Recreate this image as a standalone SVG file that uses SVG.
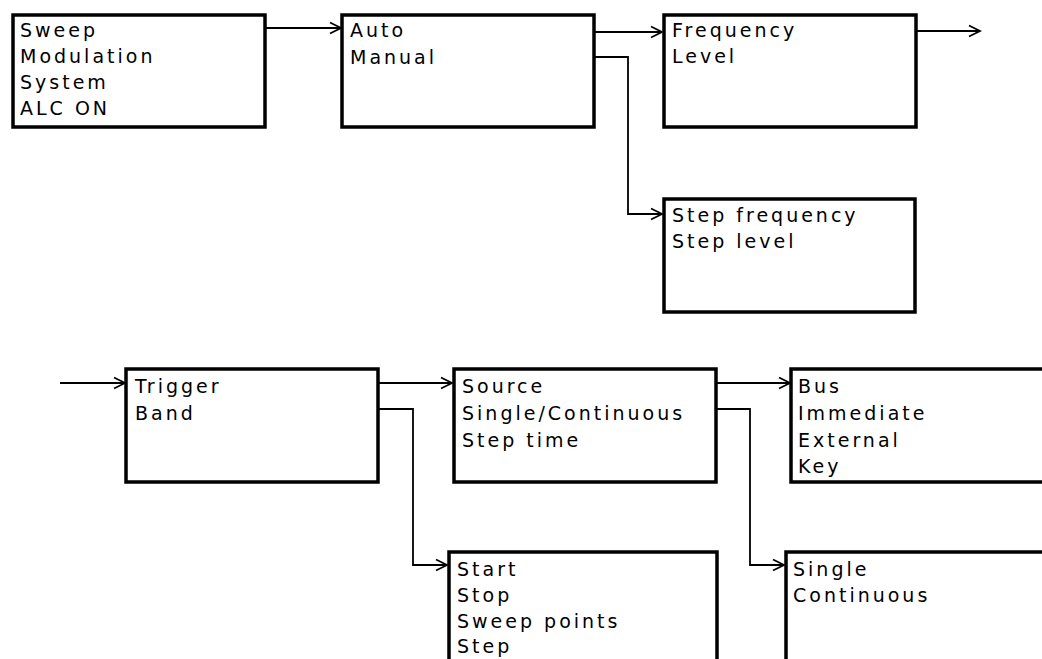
<svg xmlns="http://www.w3.org/2000/svg" width="1042" height="659" viewBox="0 0 1042 659">
<style>
.box{fill:#fff;stroke:#000;stroke-width:3.5}
.t{font-family:"DejaVu Sans","Liberation Sans",sans-serif;font-size:19px;letter-spacing:3px;fill:#000}
.c{fill:none;stroke:#000;stroke-width:1.8}
</style>
<defs>
<marker id="ah" markerWidth="14" markerHeight="14" refX="12" refY="7" orient="auto" markerUnits="userSpaceOnUse">
<polyline points="1,1.5 12,7 1,12.5" fill="none" stroke="#000" stroke-width="1.8"/>
</marker>
</defs>
<rect width="1042" height="659" fill="#fff"/>
<g id="connectors">
<line class="c" x1="265" y1="28" x2="341" y2="28" marker-end="url(#ah)"/>
<line class="c" x1="594" y1="32" x2="662" y2="32" marker-end="url(#ah)"/>
<polyline class="c" points="594,57 628,57 628,214 662,214" marker-end="url(#ah)"/>
<line class="c" x1="916" y1="31" x2="980" y2="31" marker-end="url(#ah)"/>
<line class="c" x1="60" y1="383" x2="125" y2="383" marker-end="url(#ah)"/>
<line class="c" x1="378" y1="383" x2="452" y2="383" marker-end="url(#ah)"/>
<polyline class="c" points="378,409 413,409 413,565 447,565" marker-end="url(#ah)"/>
<line class="c" x1="716" y1="383" x2="790" y2="383" marker-end="url(#ah)"/>
<polyline class="c" points="716,409 750,409 750,565 784,565" marker-end="url(#ah)"/>
</g>
<g id="n1"><rect class="box" x="13" y="15" width="252" height="112"/>
<text class="t" x="20" y="37">Sweep</text><text class="t" x="20" y="63">Modulation</text><text class="t" x="20" y="89">System</text><text class="t" x="20" y="115">ALC ON</text></g>
<g id="n2"><rect class="box" x="342" y="15" width="252" height="112"/>
<text class="t" x="350" y="37">Auto</text><text class="t" x="350" y="64">Manual</text></g>
<g id="n3"><rect class="box" x="664" y="15" width="252" height="112"/>
<text class="t" x="672" y="37">Frequency</text><text class="t" x="672" y="63">Level</text></g>
<g id="n4"><rect class="box" x="664" y="199" width="251" height="113"/>
<text class="t" x="672" y="222">Step frequency</text><text class="t" x="672" y="248">Step level</text></g>
<g id="n5"><rect class="box" x="126" y="369" width="252" height="113"/>
<text class="t" x="135" y="393">Trigger</text><text class="t" x="135" y="420">Band</text></g>
<g id="n6"><rect class="box" x="454" y="369" width="262" height="113"/>
<text class="t" x="462" y="393">Source</text><text class="t" x="462" y="420">Single/Continuous</text><text class="t" x="462" y="447">Step time</text></g>
<g id="n7"><rect class="box" x="791" y="369" width="270" height="113"/>
<text class="t" x="798" y="393">Bus</text><text class="t" x="798" y="420">Immediate</text><text class="t" x="798" y="447">External</text><text class="t" x="798" y="473">Key</text></g>
<g id="n8"><rect class="box" x="449" y="552" width="268" height="130"/>
<text class="t" x="457" y="576">Start</text><text class="t" x="457" y="602">Stop</text><text class="t" x="457" y="628">Sweep points</text><text class="t" x="457" y="653">Step</text></g>
<g id="n9"><rect class="box" x="786" y="552" width="280" height="130"/>
<text class="t" x="793" y="576">Single</text><text class="t" x="793" y="602">Continuous</text></g>
</svg>
